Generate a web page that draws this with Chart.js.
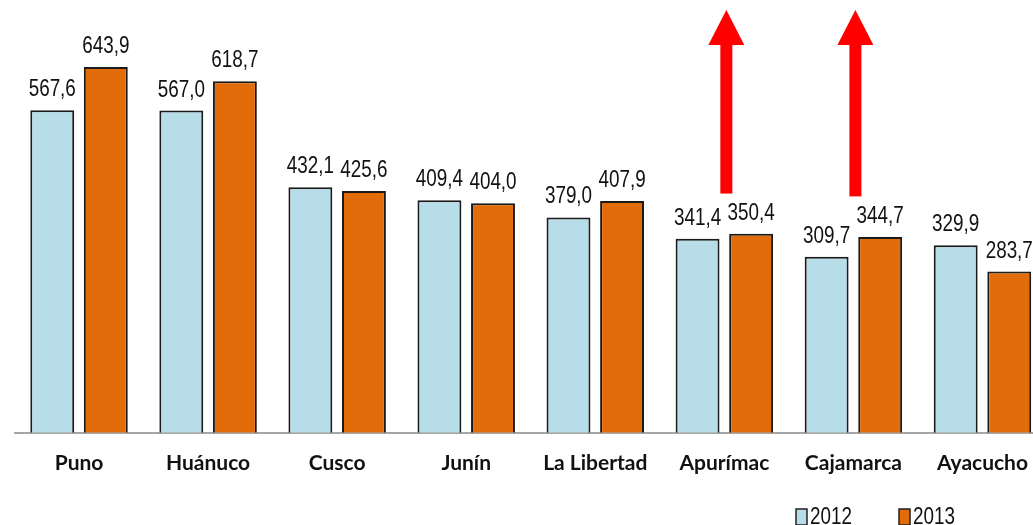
<!DOCTYPE html>
<html lang="es">
<head>
<meta charset="UTF-8">
<title>Regiones 2012 - 2013</title>
<script src="https://cdn.jsdelivr.net/npm/chart.js"></script>
<style>
  html, body { margin: 0; padding: 0; background: #fff; overflow: hidden; }
  #wrap { position: relative; width: 1047px; height: 525px; }
</style>
</head>
<body>
<div id="wrap"><canvas id="chart"></canvas></div>
<script>
// data
const regions = ['Puno', 'Huánuco', 'Cusco', 'Junín', 'La Libertad', 'Apurímac', 'Cajamarca', 'Ayacucho'];
const values2012 = [567.6, 567.0, 432.1, 409.4, 379.0, 341.4, 309.7, 329.9];
const values2013 = [643.9, 618.7, 425.6, 404.0, 407.9, 350.4, 344.7, 283.7];
const seriesNames = ['2012', '2013'];

// red arrows: which regions, from/to in value units
const arrowRegions = ['Apurímac', 'Cajamarca'];
const arrowFrom = [421, 416];
const arrowTo = [744, 744];

const fmt = v => v.toFixed(1).replace('.', ',');

// narrow-looking text: Liberation Sans squeezed horizontally
function narrowText(ctx, txt, x, y, size, squeeze) {
  ctx.save();
  ctx.translate(x, y);
  ctx.scale(squeeze, 1);
  ctx.font = size + 'px "Liberation Sans", Arial, sans-serif';
  ctx.fillText(txt, 0, 0);
  ctx.restore();
}

const extras = {
  id: 'extras',
  afterDatasetsDraw(chart) {
    const ctx = chart.ctx;
    const x = chart.scales.x, y = chart.scales.y;
    ctx.save();
    // value labels
    ctx.fillStyle = '#111';
    ctx.textAlign = 'center';
    ctx.textBaseline = 'alphabetic';
    chart.data.datasets.forEach((ds, di) => {
      chart.getDatasetMeta(di).data.forEach((bar, i) => {
        narrowText(ctx, fmt(ds.data[i]), bar.x, bar.y - 14, 23, 0.82);
      });
    });
    // arrows
    ctx.fillStyle = '#ff0000';
    arrowRegions.forEach((r, k) => {
      const cx = x.getPixelForValue(regions.indexOf(r)) + 2;
      const yb = y.getPixelForValue(arrowFrom[k]);
      const yt = y.getPixelForValue(arrowTo[k]);
      ctx.fillRect(cx - 6, yt + 34, 12, yb - yt - 34);
      ctx.beginPath();
      ctx.moveTo(cx, yt);
      ctx.lineTo(cx + 18, yt + 35);
      ctx.lineTo(cx - 18, yt + 35);
      ctx.closePath();
      ctx.fill();
    });
    // legend
    const lx = [796, 899];
    ctx.textAlign = 'left';
    ctx.textBaseline = 'middle';
    chart.data.datasets.forEach((ds, di) => {
      ctx.fillStyle = ds.backgroundColor;
      ctx.strokeStyle = '#222';
      ctx.lineWidth = 1.5;
      ctx.fillRect(lx[di], 509, 11, 16);
      ctx.strokeRect(lx[di], 509, 11, 16);
      ctx.fillStyle = '#111';
      narrowText(ctx, ds.label, lx[di] + 14, 518, 23, 0.82);
    });
    ctx.restore();
  }
};

new Chart(document.getElementById('chart'), {
  type: 'bar',
  data: {
    labels: regions,
    datasets: [
      { label: seriesNames[0], data: values2012, backgroundColor: '#b7dde8', borderColor: '#1a1a1a', borderWidth: 2 },
      { label: seriesNames[1], data: values2013, backgroundColor: '#e36c0a', borderColor: '#1a1a1a', borderWidth: 2 }
    ]
  },
  options: {
    responsive: true,
    maintainAspectRatio: false,
    animation: false,
    datasets: { bar: { categoryPercentage: 0.83, barPercentage: 0.82 } },
    layout: { padding: { left: 14.5, right: 0, top: 10, bottom: 31 } },
    plugins: { legend: { display: false }, tooltip: { enabled: false } },
    scales: {
      y: { display: false, min: 0, max: 744 },
      x: {
        grid: { display: false, drawTicks: false },
        border: { display: true, color: '#a6a6a6', width: 2 },
        ticks: { padding: 18, color: '#111', font: { family: 'Lato, "Open Sans", sans-serif', weight: 'bold', size: 21 } }
      }
    }
  },
  plugins: [extras]
});
</script>
</body>
</html>
